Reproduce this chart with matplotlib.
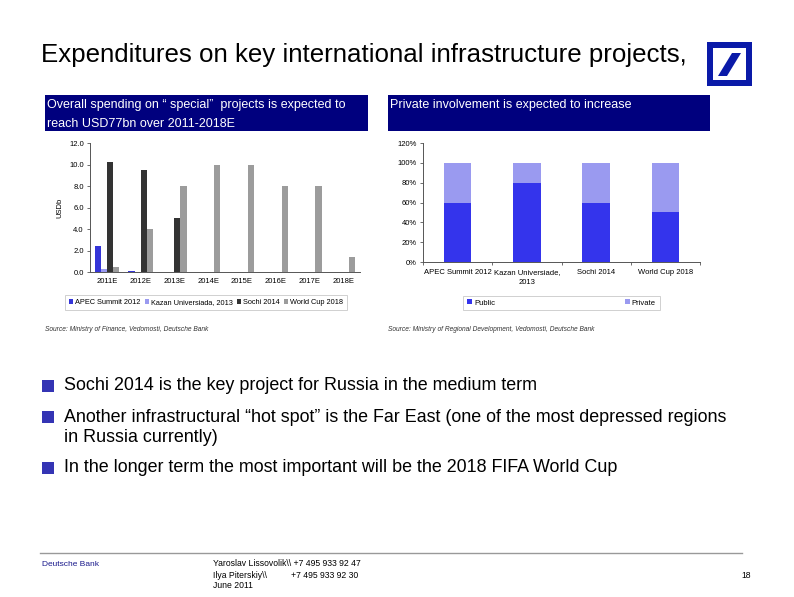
import matplotlib
matplotlib.use("Agg")
import matplotlib.pyplot as plt
import numpy as np
from matplotlib.patches import Rectangle, Polygon
from matplotlib.ticker import FuncFormatter

plt.rcParams["font.family"] = ["Liberation Sans", "DejaVu Sans"]

W, H = 794, 597

# left chart data (USD bn)
years = ["2011E", "2012E", "2013E", "2014E", "2015E", "2016E", "2017E", "2018E"]
series_names = ["APEC Summit 2012", "Kazan Universiada, 2013", "Sochi 2014", "World Cup 2018"]
apec = [2.4, 0.1, 0, 0, 0, 0, 0, 0]
kazan = [0.3, 0, 0, 0, 0, 0, 0, 0]
sochi = [10.2, 9.5, 5.0, 0, 0, 0, 0, 0]
world_cup = [0.5, 4.0, 8.0, 10.0, 10.0, 8.0, 8.0, 1.4]
series_colors = ["#3535D8", "#9A9AF0", "#333333", "#9C9C9C"]

# right chart data (share)
projects = ["APEC Summit 2012", "Kazan Universiade,\n2013", "Sochi 2014", "World Cup 2018"]
public = [0.60, 0.80, 0.60, 0.50]
private = [0.40, 0.20, 0.40, 0.50]

NAVY = "#00007E"
DB_BLUE = "#0A1AA8"


def box(x0, y0, x1, y1):
    # pixel box (top-left origin) -> figure fraction rect
    return [x0 / W, 1 - y1 / H, (x1 - x0) / W, (y1 - y0) / H]


def fx(x):
    return x / W


def fy(y):
    return 1 - y / H


def style_axis(ax):
    for side in ("top", "right"):
        ax.spines[side].set_visible(False)
    ax.spines["left"].set_color("#555555")
    ax.spines["bottom"].set_color("#555555")
    ax.spines["left"].set_linewidth(0.7)
    ax.spines["bottom"].set_linewidth(0.7)
    ax.tick_params(axis="both", labelsize=5.5, length=2.5, width=0.6, color="#555555", pad=2)


fig = plt.figure(figsize=(W / 100, H / 100), dpi=100)

# title
fig.text(fx(41), fy(55), "Expenditures on key international infrastructure projects,",
         fontsize=18.6, va="center", ha="left", color="#000000")

# logo
fig.patches.append(Rectangle((fx(707), fy(86)), fx(45), 44 / H, transform=fig.transFigure,
                             facecolor=DB_BLUE, edgecolor="none"))
fig.patches.append(Rectangle((fx(713), fy(80)), fx(33), 32 / H, transform=fig.transFigure,
                             facecolor="white", edgecolor="none"))
fig.patches.append(Polygon([(fx(718), fy(76)), (fx(727), fy(76)), (fx(741), fy(53)), (fx(732), fy(53))],
                           closed=True, transform=fig.transFigure, facecolor=DB_BLUE, edgecolor="none"))

# header boxes
fig.patches.append(Rectangle((fx(45), fy(131)), fx(323), 36 / H, transform=fig.transFigure,
                             facecolor=NAVY, edgecolor="none"))
fig.patches.append(Rectangle((fx(388), fy(131)), fx(322), 36 / H, transform=fig.transFigure,
                             facecolor=NAVY, edgecolor="none"))
fig.text(fx(47), fy(105), "Overall spending on \u201c special\u201d  projects is expected to",
         fontsize=9.0, color="white", va="center", ha="left")
fig.text(fx(47), fy(124), "reach USD77bn over 2011-2018E",
         fontsize=9.0, color="white", va="center", ha="left")
fig.text(fx(390), fy(105), "Private involvement is expected to increase",
         fontsize=9.0, color="white", va="center", ha="left")

# left chart
ax1 = fig.add_axes(box(90, 143, 360, 272))
x = np.arange(len(years))
bw = 0.18
for i, (vals, name, col) in enumerate(zip([apec, kazan, sochi, world_cup], series_names, series_colors)):
    ax1.bar(x + (i - 1.5) * bw, vals, width=bw, color=col, label=name)
ax1.set_xlim(-0.5, len(years) - 0.5)
ax1.set_ylim(0, 12)
ax1.set_yticks(np.arange(0, 12.1, 2))
ax1.yaxis.set_major_formatter(FuncFormatter(lambda v, p: f"{v:.1f}"))
ax1.set_xticks(x)
ax1.set_xticklabels(years)
ax1.set_ylabel("USDb", fontsize=5.5, labelpad=4)
style_axis(ax1)
ax1.tick_params(axis="x", length=0, pad=4)
leg1 = ax1.legend(loc="upper center", bbox_to_anchor=(0.43, -0.15), ncol=4, fontsize=5.3,
                  frameon=True, fancybox=False, handlelength=0.6, handleheight=0.6,
                  handletextpad=0.3, columnspacing=0.5, borderpad=0.55, edgecolor="#bbbbbb")
leg1.get_frame().set_linewidth(0.6)

fig.text(fx(45), fy(330), "Source: Ministry of Finance, Vedomosti, Deutsche Bank",
         fontsize=4.8, style="italic", va="center", ha="left", color="#333333")

# right chart
ax2 = fig.add_axes(box(423, 143, 700, 262))
x2 = np.arange(len(projects))
ax2.bar(x2, public, width=0.4, color="#3434EC", label="Public")
ax2.bar(x2, private, width=0.4, bottom=public, color="#9A9AF0", label="Private")
ax2.set_xlim(-0.5, len(projects) - 0.5)
ax2.set_ylim(0, 1.2)
ax2.set_yticks(np.arange(0, 1.21, 0.2))
ax2.yaxis.set_major_formatter(FuncFormatter(lambda v, p: f"{v * 100:.0f}%"))
ax2.set_xticks(x2)
ax2.set_xticklabels(projects)
for lbl in ax2.get_xticklabels():
    lbl.set_linespacing(1.6)
style_axis(ax2)
ax2.set_xticks(np.arange(-0.5, len(projects)), minor=True)
ax2.tick_params(axis="x", which="major", length=0, pad=5)
ax2.tick_params(axis="x", which="minor", length=2.5, width=0.6, color="#555555")
leg2 = ax2.legend(loc="upper center", bbox_to_anchor=(0.5, -0.25), ncol=2, fontsize=5.5,
                  frameon=True, fancybox=False, handlelength=0.6, handleheight=0.6,
                  handletextpad=0.3, columnspacing=17, borderpad=0.5, edgecolor="#bbbbbb")
leg2.get_frame().set_linewidth(0.6)

fig.text(fx(388), fy(330), "Source: Ministry of Regional Development, Vedomosti, Deutsche Bank",
         fontsize=4.8, style="italic", va="center", ha="left", color="#333333")

# bullets
bullets = [
    (386, "Sochi 2014 is the key project for Russia in the medium term"),
    (417, "Another infrastructural \u201chot spot\u201d is the Far East (one of the most depressed regions"),
    (468, "In the longer term the most important will be the 2018 FIFA World Cup"),
]
for yy, txt in bullets:
    fig.patches.append(Rectangle((fx(42), fy(yy + 6)), fx(12), 12 / H, transform=fig.transFigure,
                                 facecolor="#3434B4", edgecolor="none"))
    fig.text(fx(64), fy(yy), txt, fontsize=12.9, va="center", ha="left", color="#000000")
fig.text(fx(64), fy(438), "in Russia currently)", fontsize=12.9, va="center", ha="left", color="#000000")

# footer
fig.add_artist(plt.Line2D([fx(40), fx(742)], [fy(553), fy(553)], transform=fig.transFigure,
                          color="#999999", linewidth=1.0))
fig.text(fx(42), fy(564), "Deutsche Bank", fontsize=6, color="#1a1a8c", va="center", ha="left")
fig.text(fx(213), fy(564), "Yaroslav Lissovolik\\\\ +7 495 933 92 47", fontsize=6.2, va="center", ha="left")
fig.text(fx(213), fy(575), "Ilya Piterskiy\\\\", fontsize=6.2, va="center", ha="left")
fig.text(fx(291), fy(575), "+7 495 933 92 30", fontsize=6.2, va="center", ha="left")
fig.text(fx(213), fy(586), "June 2011", fontsize=6.2, va="center", ha="left")
fig.text(fx(751), fy(575), "18", fontsize=6.2, va="center", ha="right")

fig.savefig("out.png", dpi=100)
